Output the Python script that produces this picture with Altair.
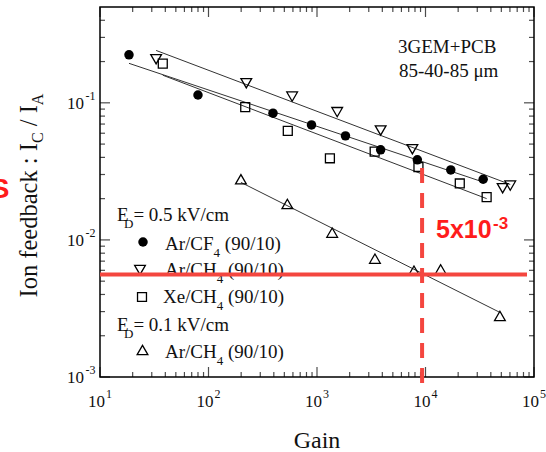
import altair as alt
import numpy as np
import pandas as pd

# ---------------- data ----------------
cf4_gain = [18.5, 80, 393, 890, 1830, 3860, 8410, 17100, 34000]
cf4_ibf = [0.224, 0.114, 0.084, 0.069, 0.0574, 0.0454, 0.0384, 0.0324, 0.0277]

arch4_gain = [32.9, 223, 590, 1535, 3860, 7570, 51400, 60400]
arch4_ibf = [0.208, 0.139, 0.111, 0.0855, 0.0628, 0.0459, 0.0238, 0.0249]

xech4_gain = [37.9, 218, 538, 1315, 3400, 8610, 20700, 36600]
xech4_ibf = [0.193, 0.093, 0.0625, 0.0394, 0.0441, 0.034, 0.0258, 0.0205]

arch4_low_gain = [199, 533, 1380, 3420, 7830, 13800, 48500]
arch4_low_ibf = [0.0277, 0.0183, 0.0113, 0.0073, 0.00597, 0.0061, 0.00279]

ibf_level = 0.0056          # red horizontal marker
gain_mark = 9300            # red vertical dashed marker
gain_mark_top = 0.0335

x_major = [10, 100, 1000, 10000, 100000]
x_exp = ["1", "2", "3", "4", "5"]
y_major = [0.001, 0.01, 0.1]
y_exp = ["-3", "-2", "-1"]
mult = [2, 3, 4, 5, 6, 7, 8, 9]
x_minor = [m * d for d in [10, 100, 1000, 10000] for m in mult]
y_minor = [m * d for d in [0.001, 0.01] for m in mult] + [0.2, 0.3, 0.4]

W, H = 434, 370
SERIF = "Liberation Serif"
SANS = "Liberation Sans"
RED_LINE = "#f4463f"
RED_TEXT = "#ff1c1c"
INK = "#111111"

xs = alt.Scale(type="log", domain=[10, 100000], nice=False)
ys = alt.Scale(type="log", domain=[0.001, 0.5], nice=False)

one = pd.DataFrame({"k": [0]})

# Times New Roman advance widths (per 1000 em)
TW = {' ': 250, '(': 333, ')': 333, '+': 564, '-': 333, '.': 250, '/': 278, ':': 278, '=': 564,
      'A': 722, 'B': 667, 'C': 667, 'D': 722, 'E': 611, 'F': 556, 'G': 722, 'H': 722, 'I': 333,
      'M': 889, 'P': 556, 'V': 722, 'X': 722, 'a': 444, 'b': 500, 'c': 444, 'd': 500, 'e': 444,
      'f': 333, 'i': 278, 'k': 500, 'm': 778, 'n': 500, 'o': 500, 'r': 333, 'x': 500}


def tw(s, size):
    return sum(TW.get(ch, 500) for ch in s) * size / 1000.0


def rich(segs, x0, y0, size, sub_size, shift, rotated=False, font=SERIF, color=INK):
    out = []
    pos = 0.0
    for text, kind, kern in segs:
        s = size if kind == "n" else sub_size
        sh = 0 if kind == "n" else shift
        pos += kern
        # leading spaces collapse in SVG text: turn them into an offset
        stripped = text.lstrip(" ")
        pos += tw(text[:len(text) - len(stripped)], s)
        kw = dict(text=stripped, align="left", baseline="alphabetic", font=font,
                  fontSize=s, color=color)
        if rotated:
            kw["angle"] = 270
            x, y = x0 + sh, y0 - pos
        else:
            x, y = x0 + pos, y0 + sh
        out.append(alt.Chart(one).mark_text(**kw).encode(x=alt.value(x), y=alt.value(y)))
        pos += tw(stripped, s)
    return out


layers = []

# ---------------- fit lines (log-log least squares) ----------------
series = [("cf4", cf4_gain, cf4_ibf), ("arch4", arch4_gain, arch4_ibf),
          ("xech4", xech4_gain, xech4_ibf), ("arch4low", arch4_low_gain, arch4_low_ibf)]
rows = []
for name, gx, gy in series:
    lx, ly = np.log10(gx), np.log10(gy)
    b, a = np.polyfit(lx, ly, 1)
    for xv in (min(gx), max(gx)):
        rows.append({"s": name, "gain": xv, "ibf": 10 ** (a + b * np.log10(xv))})
fits = pd.DataFrame(rows)
layers.append(alt.Chart(fits).mark_line(color="#333333", strokeWidth=1).encode(
    x=alt.X("gain:Q", scale=xs, axis=None), y=alt.Y("ibf:Q", scale=ys, axis=None), detail="s:N"))

# ---------------- data points ----------------
def pts(gx, gy, shape, filled, size):
    df = pd.DataFrame({"gain": gx, "ibf": gy})
    kw = dict(shape=shape, size=size, opacity=1, color="black", strokeWidth=1.3, filled=filled)
    return alt.Chart(df).mark_point(**kw).encode(
        x=alt.X("gain:Q", scale=xs, axis=None), y=alt.Y("ibf:Q", scale=ys, axis=None))

layers.append(pts(cf4_gain, cf4_ibf, "circle", True, 90))
layers.append(pts(arch4_gain, arch4_ibf, "triangle-down", False, 115))
layers.append(pts(xech4_gain, xech4_ibf, "square", False, 80))
layers.append(pts(arch4_low_gain, arch4_low_ibf, "triangle-up", False, 115))

# ---------------- inward ticks on all four sides ----------------
def xt(vals, size, y):
    return alt.Chart(pd.DataFrame({"v": vals})).mark_tick(
        orient="vertical", size=size, thickness=1.2, color="black").encode(
        x=alt.X("v:Q", scale=xs, axis=None), y=alt.value(y))


def yt(vals, size, x):
    return alt.Chart(pd.DataFrame({"v": vals})).mark_tick(
        orient="horizontal", size=size, thickness=1.2, color="black").encode(
        y=alt.Y("v:Q", scale=ys, axis=None), x=alt.value(x))

layers += [xt(x_major, 10, H - 5), xt(x_minor, 5, H - 2.5), xt(x_major, 10, 5), xt(x_minor, 5, 2.5),
           yt(y_major, 10, 5), yt(y_minor, 5, 2.5), yt(y_major, 10, W - 5), yt(y_minor, 5, W - 2.5)]

# ---------------- tick labels ----------------
xl = pd.DataFrame({"v": x_major, "e": x_exp})
layers.append(alt.Chart(xl).mark_text(text="10", align="right", baseline="alphabetic", dx=5,
                                       font=SERIF, fontSize=17, color=INK).encode(
    x=alt.X("v:Q", scale=xs, axis=None), y=alt.value(400)))
layers.append(alt.Chart(xl).mark_text(align="left", baseline="alphabetic", dx=6,
                                       font=SERIF, fontSize=12, color=INK).encode(
    x=alt.X("v:Q", scale=xs, axis=None), y=alt.value(391), text="e:N"))
yl = pd.DataFrame({"v": y_major, "e": y_exp})
layers.append(alt.Chart(yl).mark_text(text="10", align="right", baseline="alphabetic", dy=6,
                                       font=SERIF, fontSize=17, color=INK).encode(
    y=alt.Y("v:Q", scale=ys, axis=None), x=alt.value(-16)))
layers.append(alt.Chart(yl).mark_text(align="right", baseline="alphabetic", dy=-3,
                                       font=SERIF, fontSize=12, color=INK).encode(
    y=alt.Y("v:Q", scale=ys, axis=None), x=alt.value(-4.5), text="e:N"))

# ---------------- axis titles ----------------
layers.append(alt.Chart(one).mark_text(text="Gain", align="center", baseline="alphabetic",
                                       font=SERIF, fontSize=24, color=INK).encode(
    x=alt.value(W / 2), y=alt.value(441)))
layers += rich([("Ion feedback : I", "n", 0), ("C", "s", 0), (" / I", "n", 0), ("A", "s", 0)],
               -63, 290.5, 24.5, 16, 6, rotated=True)

# ---------------- annotation text ----------------
layers.append(alt.Chart(one).mark_text(text="3GEM+PCB", align="left", baseline="alphabetic",
                                       font=SERIF, fontSize=19, color=INK).encode(
    x=alt.value(298), y=alt.value(46)))
layers.append(alt.Chart(one).mark_text(text="85-40-85 μm", align="left", baseline="alphabetic",
                                       font=SERIF, fontSize=19, color=INK).encode(
    x=alt.value(299), y=alt.value(70)))

# ---------------- legend ----------------
LS, LSS, LSH = 19, 13, 7
layers += rich([("E", "n", 0), ("D", "s", -4.6), ("= 0.5 kV/cm", "n", 0)], 17, 214, LS, LSS, LSH)
layers += rich([("Ar/CF", "n", 0), ("4", "s", 0), (" (90/10)", "n", 0)], 65, 243, LS, LSS, LSH)
layers += rich([("Ar/CH", "n", 0), ("4", "s", 0), (" (90/10)", "n", 0)], 65, 269, LS, LSS, LSH)
layers += rich([("Xe/CH", "n", 0), ("4", "s", 0), (" (90/10)", "n", 0)], 63, 296, LS, LSS, LSH)
layers += rich([("E", "n", 0), ("D", "s", -4.6), ("= 0.1 kV/cm", "n", 0)], 17, 324, LS, LSS, LSH)
layers += rich([("Ar/CH", "n", 0), ("4", "s", 0), (" (90/10)", "n", 0)], 65, 351, LS, LSS, LSH)


def lmark(shape, filled, size, x, y):
    return alt.Chart(one).mark_point(shape=shape, filled=filled, size=size, opacity=1,
                                     color="black", strokeWidth=1.3).encode(
        x=alt.value(x), y=alt.value(y))

layers += [lmark("circle", True, 90, 43, 235), lmark("triangle-down", False, 115, 40, 263),
           lmark("square", False, 80, 42, 290), lmark("triangle-up", False, 115, 42.5, 343)]

# ---------------- red overlay ----------------
layers.append(alt.Chart(one).mark_rule(color=RED_LINE, strokeWidth=4).encode(
    y=alt.Y(datum=ibf_level, type="quantitative", scale=ys, axis=None),
    x=alt.value(0), x2=alt.value(427)))
layers.append(alt.Chart(one).mark_rule(color=RED_LINE, strokeWidth=4, strokeDash=[15, 10]).encode(
    x=alt.X(datum=gain_mark, type="quantitative", scale=xs, axis=None),
    y=alt.Y(datum=gain_mark_top, type="quantitative", scale=ys, axis=None),
    y2=alt.value(376)))
layers.append(alt.Chart(one).mark_text(text="5x10", align="left", baseline="alphabetic",
                                       font=SANS, fontWeight="bold", fontSize=25, color=RED_TEXT).encode(
    x=alt.value(336), y=alt.value(231)))
layers.append(alt.Chart(one).mark_text(text="-3", align="left", baseline="alphabetic",
                                       font=SANS, fontWeight="bold", fontSize=17, color=RED_TEXT).encode(
    x=alt.value(393), y=alt.value(222)))
layers.append(alt.Chart(one).mark_text(text="S", align="center", baseline="alphabetic",
                                       font=SANS, fontWeight="bold", fontSize=28, color=RED_TEXT).encode(
    x=alt.value(-100), y=alt.value(191)))

chart = alt.layer(*layers).properties(
    width=W, height=H,
    autosize=alt.AutoSizeParams(type="none"),
    padding={"left": 100, "top": 7, "right": 12, "bottom": 75},
).configure_view(stroke="black", strokeWidth=1.5)

chart.save("out.html", embed_options={"renderer": "svg", "actions": False})
